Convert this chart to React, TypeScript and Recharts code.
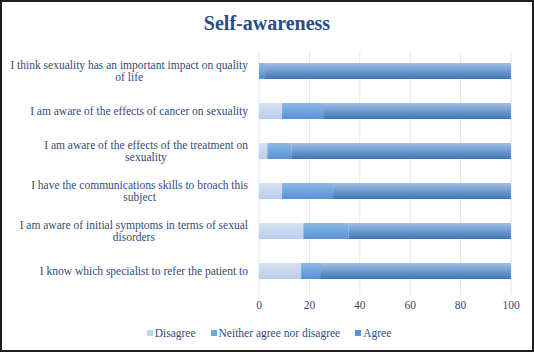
import { Bar, BarChart, CartesianGrid, XAxis, YAxis } from "recharts";

const statements = [
  "I think sexuality has an important impact on quality of life",
  "I am aware of the effects of cancer on sexuality",
  "I am aware of the effects of the treatment on sexuality",
  "I have the communications skills to broach this subject",
  "I am aware of initial symptoms in terms of sexual disorders",
  "I know which specialist to refer the patient to",
];
const disagree = [0, 9.1, 3.3, 9.1, 17.6, 16.7];
const neutral = [2.4, 16.7, 9.5, 20.3, 18, 7.9];
const agree = [97.6, 74.2, 87.2, 70.6, 64.4, 75.4];
const xTicks = [0, 20, 40, 60, 80, 100];

const series = [
  { key: "disagree", name: "Disagree", top: "#d7e2f3", bottom: "#b9cce9", swatch: "#c3d4ee" },
  { key: "neutral", name: "Neither agree nor disagree", top: "#8dbae8", bottom: "#5690d2", swatch: "#6ea5de" },
  { key: "agree", name: "Agree", top: "#a3bfe6", bottom: "#3f75bb", swatch: "#5e8fd0" },
];

const data = statements.map((label, i) => ({
  label,
  disagree: disagree[i],
  neutral: neutral[i],
  agree: agree[i],
}));

const FONT = "'Liberation Serif', serif";
const TEXT = "#2f4b7c";

function wrap(text: string, max: number) {
  const lines: string[] = [];
  let cur = "";
  for (const w of text.split(" ")) {
    const next = cur ? cur + " " + w : w;
    if (next.length > max && cur) {
      lines.push(cur);
      cur = w;
    } else cur = next;
  }
  if (cur) lines.push(cur);
  return lines;
}

let ctx: CanvasRenderingContext2D | null = null;
function measure(s: string) {
  if (!ctx) {
    ctx = document.createElement("canvas").getContext("2d");
    if (ctx) ctx.font = `11.5px ${FONT}`;
  }
  return ctx ? ctx.measureText(s).width : s.length * 5;
}

function CategoryTick(props: any) {
  const { x, y, payload } = props;
  const lines = wrap(payload.value, 52);
  const w = Math.max(...lines.map(measure));
  const right = x - 3;
  const cx = right - w / 2;
  const lh = 12.5;
  const y0 = y - ((lines.length - 1) * lh) / 2;
  return (
    <text fontFamily={FONT} fontSize={11.5} fill={TEXT} textAnchor="middle" dominantBaseline="central">
      {lines.map((l, i) => (
        <tspan key={i} x={cx} y={y0 + i * lh}>
          {l}
        </tspan>
      ))}
    </text>
  );
}

export default function App() {
  return (
    <div
      style={{
        position: "absolute",
        left: 0,
        top: 0,
        width: 534,
        height: 352,
        boxSizing: "border-box",
        border: "2px solid #1e1e1e",
        background: "#fff",
        fontFamily: FONT,
      }}
    >
      <div
        style={{
          position: "absolute",
          top: 10,
          left: 0,
          width: 530,
          textAlign: "center",
          fontWeight: "bold",
          fontSize: 20,
          color: "#2a4c82",
        }}
      >
        Self-awareness
      </div>
      <div style={{ position: "absolute", left: -2, top: -2 }}>
        <BarChart
          width={534}
          height={352}
          data={data}
          layout="vertical"
          barSize={16}
          margin={{ top: 51, right: 23, bottom: 41, left: 0 }}
        >
          <defs>
            {series.map((s) => (
              <linearGradient key={s.key} id={`g-${s.key}`} x1="0" y1="0" x2="0" y2="1">
                <stop offset="0%" stopColor={s.top} />
                <stop offset="100%" stopColor={s.bottom} />
              </linearGradient>
            ))}
          </defs>
          <CartesianGrid horizontal={false} stroke="#dde7f3" strokeWidth={1} />
          <XAxis
            type="number"
            domain={[0, 100]}
            ticks={xTicks}
            height={20}
            axisLine={false}
            tickLine={{ stroke: "#dde7f3" }}
            tickSize={4}
            tickMargin={6}
            tick={{ fill: TEXT, fontSize: 11.5, fontFamily: FONT }}
          />
          <YAxis
            type="category"
            dataKey="label"
            width={259}
            axisLine={false}
            tickLine={false}
            tick={<CategoryTick />}
          />
          {series.map((s) => (
            <Bar
              key={s.key}
              dataKey={s.key}
              name={s.name}
              stackId="a"
              fill={`url(#g-${s.key})`}
              isAnimationActive={false}
            />
          ))}
        </BarChart>
      </div>
      <div
        style={{
          position: "absolute",
          top: 325,
          left: 0,
          width: 534,
          display: "flex",
          justifyContent: "center",
          gap: 15,
          fontSize: 11.5,
          color: TEXT,
        }}
      >
        {series.map((s) => (
          <span key={s.key} style={{ display: "flex", alignItems: "center" }}>
            <span
              style={{ display: "inline-block", width: 6, height: 6, background: s.swatch, marginRight: 2 }}
            />
            {s.name}
          </span>
        ))}
      </div>
    </div>
  );
}
